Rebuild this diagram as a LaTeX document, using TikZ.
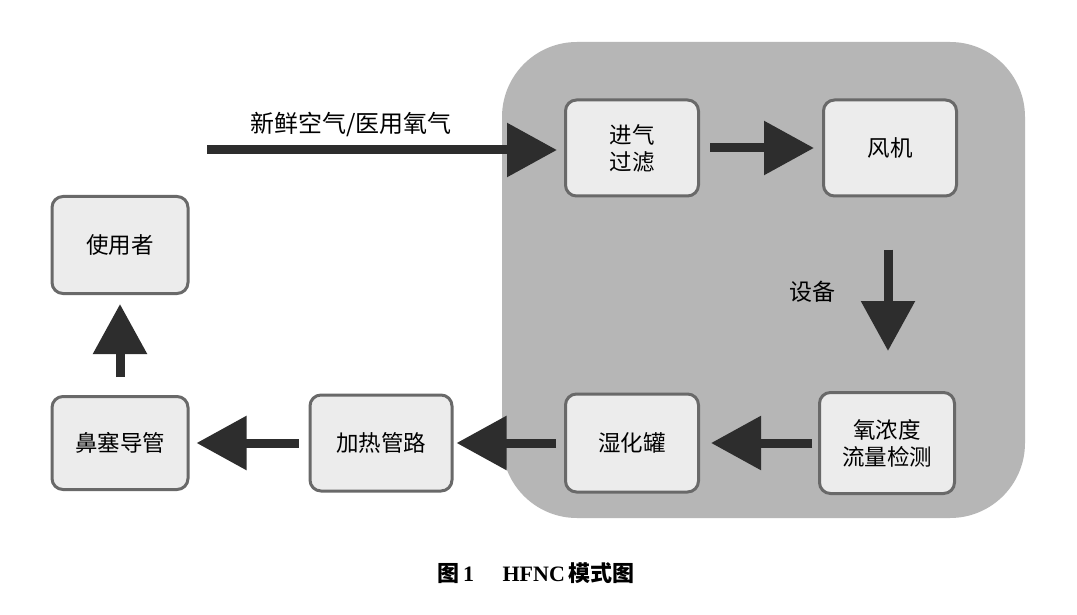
\documentclass[tikz,border=0pt]{standalone}
\usepackage{fontspec}
\setmainfont{Liberation Serif}
\newfontfamily\cjk{Noto Sans CJK SC}
\usetikzlibrary{arrows.meta}
\definecolor{panelgray}{RGB}{182,182,182}
\definecolor{boxfill}{RGB}{236,236,236}
\definecolor{boxline}{RGB}{105,105,105}
\definecolor{arrowcol}{RGB}{45,45,45}
\tikzset{
  blk/.style={draw=boxline, line width=3pt, fill=boxfill, rounded corners=11pt,
    minimum width=#1, minimum height=96pt, align=center, inner sep=0pt,
    font=\cjk\fontsize{22.5}{27}\selectfont},
  blk/.default=133pt,
  flow/.style={draw=arrowcol, line width=9pt,
    -{Triangle[length=50pt,width=52pt,fill=arrowcol]}},
  lbl/.style={font=\cjk\fontsize{23}{26}\selectfont}
}
\begin{document}
\begin{tikzpicture}[x=1pt,y=-1pt]
\useasboundingbox (0,0) rectangle (1077,615);
\fill[white] (0,0) rectangle (1077,615);
\fill[panelgray, rounded corners=75pt] (502,42) rectangle (1025,518);

\node[blk] (filt) at (632,148) {进气\\过滤};
\node[blk] (fan) at (890,148) {风机};
\node[blk=135pt, minimum height=101pt] (sens) at (887,443) {氧浓度\\流量检测};
\node[blk, minimum height=98pt] (hum) at (632,443) {湿化罐};
\node[blk=142pt] (heat) at (381,443) {加热管路};
\node[blk=136pt, minimum height=93pt] (nose) at (120,443) {鼻塞导管};
\node[blk=136pt, minimum height=97pt] (user) at (120,245) {使用者};

\coordinate (src) at (207,150);
\draw[flow] (src) -- ([xshift=-7pt]filt.west |- src);
\node[lbl, font=\cjk\fontsize{24}{26}\selectfont] (srclbl) at (351,124) {新鲜空气/医用氧气};

\draw[flow] ([xshift=10pt]filt.east) -- ([xshift=-8pt]fan.west);
\coordinate (dtop) at ([xshift=-2pt,yshift=-52pt]fan.south);
\coordinate (dbot) at ([yshift=40pt]sens.north);
\draw[flow] (dtop) -- (dtop |- dbot);
\node[lbl] (dev) at (812,292) {设备};
\draw[flow] ([xshift=-6pt]sens.west) -- ([xshift=11pt]hum.east);
\draw[flow] ([xshift=-8pt]hum.west) -- ([xshift=3pt]heat.east);
\draw[flow] ([xshift=-10pt]heat.west) -- ([xshift=7pt]nose.east);
\draw[flow] ([yshift=18pt]nose.north) -- ([yshift=-9pt]user.south);

\node[font=\bfseries\fontsize{22}{26}\selectfont] (cap) at (536,573) {{\cjk 图}\,1\hspace{1.3em}HFNC\,{\cjk 模式图}};
\end{tikzpicture}
\end{document}
